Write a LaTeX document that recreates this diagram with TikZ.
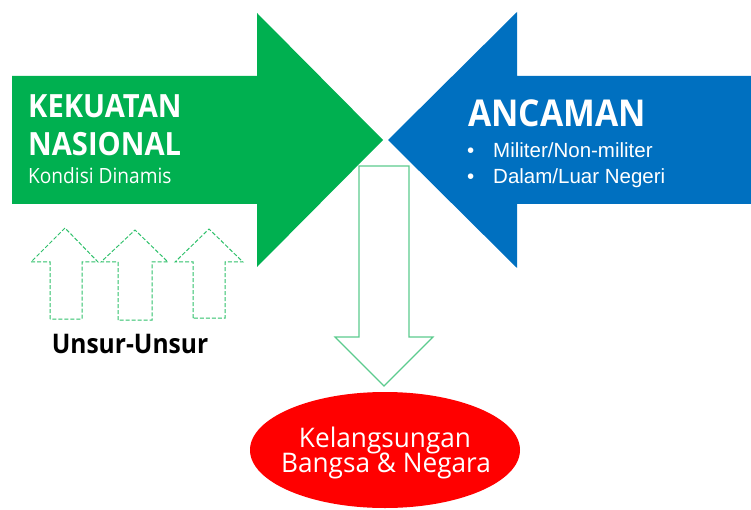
\documentclass[tikz,border=0pt]{standalone}
\usepackage{fontspec}
\setmainfont[FakeStretch=0.91]{Open Sans}
\newfontfamily\ellf[FakeStretch=0.97]{Open Sans}
\newfontfamily\arialf{Liberation Sans}
\definecolor{kgreen}{HTML}{00B050}
\definecolor{kblue}{HTML}{0070C0}
\definecolor{kred}{HTML}{FF0000}
\definecolor{lgreen}{HTML}{5CCB8E}
\definecolor{dgreen}{HTML}{2EC06A}
\tikzset{
  x=1pt,y=-1pt,
  hollow/.style={draw=lgreen,line width=1.2pt,fill=white,line join=miter},
  dashedarrow/.style={draw=dgreen,line width=1pt,dash pattern=on 4pt off 2pt},
  wtext/.style={text=white,inner sep=0pt,anchor=base west},
  btext/.style={wtext,font=\fontsize{20.5}{20.5}\selectfont\arialf},
}
\begin{document}
\begin{tikzpicture}
\useasboundingbox (0,0) rectangle (751,510);
% green arrow
\fill[kgreen] (12,76) -- (257,76) -- (257,13) -- (383,140) -- (257,267) -- (257,204) -- (12,204) -- cycle;
% blue arrow
\fill[kblue] (751,76) -- (517,76) -- (517,12) -- (388,140) -- (517,268) -- (517,204) -- (751,204) -- cycle;
% hollow down arrow
\draw[hollow] (359,166) -- (409,166) -- (409,337) -- (433,337) -- (384,386) -- (335,337) -- (359,337) -- cycle;
% dashed arrows
\draw[dashedarrow] (50,319) -- (50,262) -- (31,262) -- (65,228) -- (98,262) -- (82,262) -- (82,319) -- cycle;
\draw[dashedarrow] (118,320) -- (118,262) -- (101,262) -- (135,230) -- (168,262) -- (152,262) -- (152,320) -- cycle;
\draw[dashedarrow] (193,318) -- (193,262) -- (175,262) -- (209,229) -- (243,262) -- (225,262) -- (225,318) -- cycle;
% red ellipse
\fill[kred] (385,450) ellipse [x radius=135, y radius=58];
% texts
\node[wtext,font=\fontsize{32}{32}\selectfont\bfseries] (kek) at (28,118) {KEKUATAN};
\node[wtext,font=\fontsize{32}{32}\selectfont\bfseries] (nas) at (28,156) {NASIONAL};
\node[wtext,font=\fontsize{21}{21}\selectfont] (kon) at (28,184) {Kondisi Dinamis};
\node[wtext,font=\fontsize{37}{37}\selectfont\bfseries] (anc) at (468,127) {ANCAMAN};
\node[btext] (b1) at (493,158) {Militer/Non-militer};
\node[btext] (b2) at (493,184) {Dalam/Luar Negeri};
\node[btext] (d1) at (467,158) {•};
\node[btext] (d2) at (467,184) {•};
\node[inner sep=0pt,anchor=base,font=\fontsize{27}{27}\selectfont\bfseries] (uns) at (130,353) {Unsur-Unsur};
\node[inner sep=0pt,anchor=base,text=white,font=\fontsize{27}{27}\selectfont\ellf] (kel) at (385,447) {Kelangsungan};
\node[inner sep=0pt,anchor=base,text=white,font=\fontsize{27}{27}\selectfont\ellf] (ban) at (386,472) {Bangsa \& Negara};
\end{tikzpicture}
\end{document}
